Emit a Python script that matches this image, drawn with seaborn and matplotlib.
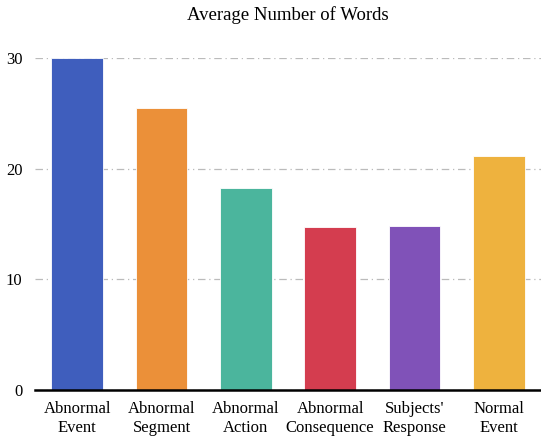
import matplotlib
matplotlib.use("Agg")
import matplotlib.pyplot as plt
import seaborn as sns
import pandas as pd

categories = ["Abnormal\nEvent", "Abnormal\nSegment", "Abnormal\nAction",
              "Abnormal\nConsequence", "Subjects'\nResponse", "Normal\nEvent"]
values = [30.0, 25.5, 18.25, 14.7, 14.8, 21.1]
colors = ["#3F5EBD", "#EB9039", "#4BB59D", "#D43D4F", "#8052B8", "#EEB23E"]
yticks = [0, 10, 20, 30]

sns.set_theme(style="white")
plt.rcParams["font.family"] = ["Liberation Serif", "DejaVu Serif"]

df = pd.DataFrame({"cat": categories, "val": values})

fig = plt.figure(figsize=(5.41, 4.43), dpi=100)
ax = fig.add_axes([35/541, 1-390/443, 1-35/541, (390-58)/443])
sns.barplot(data=df, x="cat", y="val", hue="cat", palette=colors, legend=False,
            saturation=1, width=0.615, ax=ax, edgecolor="white", linewidth=0.6, zorder=3)
ax.set_ylim(0, 30)
ax.set_xlim(-0.5, 5.5)
ax.set_yticks(yticks)
ax.set_xlabel("")
ax.set_ylabel("")
ax.yaxis.grid(True, linestyle=(0, (6, 3, 1, 3)), color="#BBBBBB", linewidth=0.9, zorder=0)
ax.set_axisbelow(True)
for s in ["top", "right", "left"]:
    ax.spines[s].set_visible(False)
ax.spines["bottom"].set_color("black")
ax.spines["bottom"].set_linewidth(1.8)
ax.spines["bottom"].set_zorder(5)
ax.tick_params(axis="both", length=0, labelsize=12, colors="black")
ax.tick_params(axis="x", pad=8)
ax.tick_params(axis="y", pad=9)
ax.set_title("Average Number of Words", fontsize=13.5, pad=27, color="black")
fig.savefig("out.png", dpi=100)
